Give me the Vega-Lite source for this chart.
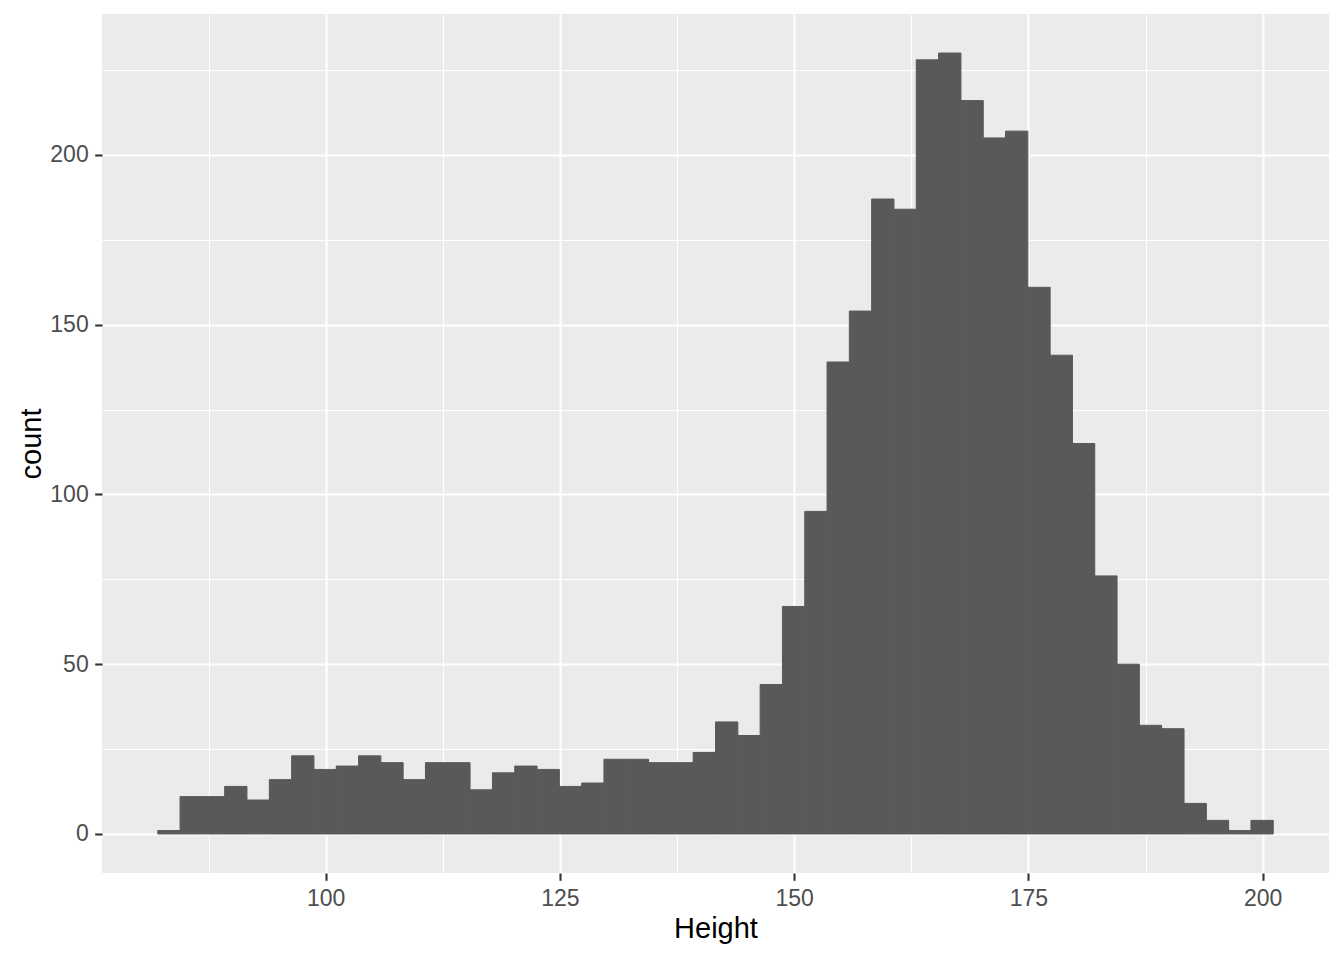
{
  "$schema": "https://vega.github.io/schema/vega-lite/v6.json",
  "width": 1227,
  "height": 859,
  "autosize": {"type": "none"},
  "padding": {"left": 102, "top": 14, "right": 15, "bottom": 87},
  "background": "white",
  "config": {
    "view": {"fill": "#EBEBEB", "stroke": null},
    "font": "Liberation Sans"
  },
  "data": {
    "values": [
      {"x0": 82.08, "x1": 84.46, "count": 1},
      {"x0": 84.46, "x1": 86.84, "count": 11},
      {"x0": 86.84, "x1": 89.22, "count": 11},
      {"x0": 89.22, "x1": 91.60, "count": 14},
      {"x0": 91.60, "x1": 93.99, "count": 10},
      {"x0": 93.99, "x1": 96.37, "count": 16},
      {"x0": 96.37, "x1": 98.75, "count": 23},
      {"x0": 98.75, "x1": 101.13, "count": 19},
      {"x0": 101.13, "x1": 103.51, "count": 20},
      {"x0": 103.51, "x1": 105.89, "count": 23},
      {"x0": 105.89, "x1": 108.27, "count": 21},
      {"x0": 108.27, "x1": 110.65, "count": 16},
      {"x0": 110.65, "x1": 113.03, "count": 21},
      {"x0": 113.03, "x1": 115.41, "count": 21},
      {"x0": 115.41, "x1": 117.80, "count": 13},
      {"x0": 117.80, "x1": 120.18, "count": 18},
      {"x0": 120.18, "x1": 122.56, "count": 20},
      {"x0": 122.56, "x1": 124.94, "count": 19},
      {"x0": 124.94, "x1": 127.32, "count": 14},
      {"x0": 127.32, "x1": 129.70, "count": 15},
      {"x0": 129.70, "x1": 132.08, "count": 22},
      {"x0": 132.08, "x1": 134.46, "count": 22},
      {"x0": 134.46, "x1": 136.84, "count": 21},
      {"x0": 136.84, "x1": 139.22, "count": 21},
      {"x0": 139.22, "x1": 141.61, "count": 24},
      {"x0": 141.61, "x1": 143.99, "count": 33},
      {"x0": 143.99, "x1": 146.37, "count": 29},
      {"x0": 146.37, "x1": 148.75, "count": 44},
      {"x0": 148.75, "x1": 151.13, "count": 67},
      {"x0": 151.13, "x1": 153.51, "count": 95},
      {"x0": 153.51, "x1": 155.89, "count": 139},
      {"x0": 155.89, "x1": 158.27, "count": 154},
      {"x0": 158.27, "x1": 160.65, "count": 187},
      {"x0": 160.65, "x1": 163.03, "count": 184},
      {"x0": 163.03, "x1": 165.41, "count": 228},
      {"x0": 165.41, "x1": 167.80, "count": 230},
      {"x0": 167.80, "x1": 170.18, "count": 216},
      {"x0": 170.18, "x1": 172.56, "count": 205},
      {"x0": 172.56, "x1": 174.94, "count": 207},
      {"x0": 174.94, "x1": 177.32, "count": 161},
      {"x0": 177.32, "x1": 179.70, "count": 141},
      {"x0": 179.70, "x1": 182.08, "count": 115},
      {"x0": 182.08, "x1": 184.46, "count": 76},
      {"x0": 184.46, "x1": 186.84, "count": 50},
      {"x0": 186.84, "x1": 189.22, "count": 32},
      {"x0": 189.22, "x1": 191.61, "count": 31},
      {"x0": 191.61, "x1": 193.99, "count": 9},
      {"x0": 193.99, "x1": 196.37, "count": 4},
      {"x0": 196.37, "x1": 198.75, "count": 1},
      {"x0": 198.75, "x1": 201.13, "count": 4}
    ]
  },
  "mark": {"type": "bar", "fill": "#595959", "stroke": "#595959", "strokeWidth": 1},
  "encoding": {
    "x": {
      "field": "x0",
      "type": "quantitative",
      "scale": {"domain": [76.13, 207.08], "nice": false, "zero": false},
      "axis": {
        "title": "Height",
        "values": [87.5, 100, 112.5, 125, 137.5, 150, 162.5, 175, 187.5, 200],
        "labelExpr": "datum.value % 25 === 0 ? datum.label : ''",
        "labelOverlap": false,
        "labelFontSize": 23,
        "labelColor": "#4D4D4D",
        "labelBaseline": "alphabetic",
        "labelPadding": 25,
        "domain": false,
        "grid": true,
        "gridColor": "white",
        "gridWidth": {"condition": {"test": "datum.value % 25 === 0", "value": 2.1}, "value": 1.05},
        "ticks": true,
        "tickSize": 7.3,
        "tickColor": "#333333",
        "tickWidth": 2.1,
        "tickOpacity": {"condition": {"test": "datum.value % 25 === 0", "value": 1}, "value": 0},
        "titleFontSize": 29,
        "titleFontWeight": "normal",
        "titleColor": "black",
        "titleBaseline": "alphabetic",
        "titleX": 613.5,
        "titleY": 64
      }
    },
    "x2": {"field": "x1"},
    "y": {
      "field": "count",
      "type": "quantitative",
      "scale": {"domain": [-11.5, 241.5], "nice": false, "zero": false},
      "axis": {
        "title": "count",
        "values": [0, 25, 50, 75, 100, 125, 150, 175, 200, 225],
        "labelExpr": "datum.value % 50 === 0 ? datum.label : ''",
        "labelOverlap": false,
        "labelFontSize": 23,
        "labelColor": "#4D4D4D",
        "labelPadding": 6.5,
        "domain": false,
        "grid": true,
        "gridColor": "white",
        "gridWidth": {"condition": {"test": "datum.value % 50 === 0", "value": 2.1}, "value": 1.05},
        "ticks": true,
        "tickSize": 7.3,
        "tickColor": "#333333",
        "tickWidth": 2.1,
        "tickOpacity": {"condition": {"test": "datum.value % 50 === 0", "value": 1}, "value": 0},
        "titleFontSize": 29,
        "titleFontWeight": "normal",
        "titleColor": "black",
        "titleAngle": -90,
        "titleBaseline": "alphabetic",
        "titleAlign": "center",
        "titleX": -62,
        "titleY": 429.5
      }
    },
    "y2": {"datum": 0}
  }
}
